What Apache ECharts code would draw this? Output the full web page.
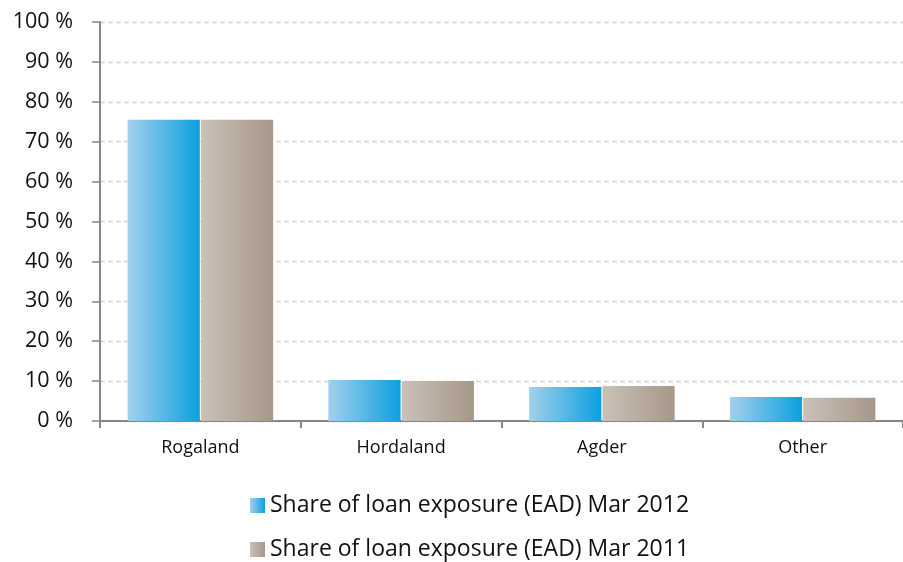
<!DOCTYPE html>
<html>
<head>
<meta charset="utf-8">
<script src="https://cdn.jsdelivr.net/npm/echarts@6/dist/echarts.min.js"></script>
<style>
  html, body { margin: 0; padding: 0; background: #fff; overflow: hidden; }
  #chart { width: 903px; height: 562px; }
</style>
</head>
<body>
<div id="chart"></div>
<script>
    // 数据
    var categories = ['Rogaland', 'Hordaland', 'Agder', 'Other'];
    var seriesNames = ['Share of loan exposure (EAD) Mar 2012', 'Share of loan exposure (EAD) Mar 2011'];
    var mar2012 = [75.5, 10.3, 8.5, 6.0];
    var mar2011 = [75.5, 10.0, 8.8, 5.8];

    function grad(c1, c2) {
        return new echarts.graphic.LinearGradient(0, 0, 1, 0, [
            { offset: 0, color: c1 },
            { offset: 1, color: c2 }
        ]);
    }

    // 图例每行一个
    function legendAt(name, top) {
        return {
            orient: 'horizontal',
            left: 245,
            top: top,
            itemWidth: 15,
            itemHeight: 15,
            icon: 'rect',
            textStyle: { fontSize: 23, color: '#111', fontFamily: '"Open Sans", sans-serif' },
            data: [name]
        };
    }

    var myChart = echarts.init(document.getElementById('chart'));

    var option = {
        animation: false,
        textStyle: { fontFamily: '"Open Sans", sans-serif' },
        // 图表在右侧被裁掉了一部分
        grid: { left: 100, top: 22, width: 812, bottom: 141, containLabel: false },
        legend: [legendAt(seriesNames[0], 489), legendAt(seriesNames[1], 533)],
        xAxis: {
            type: 'category',
            data: categories,
            axisLine: { lineStyle: { color: '#878787', width: 2 } },
            axisTick: { show: true, length: 7, lineStyle: { color: '#878787', width: 2 } },
            axisLabel: { fontSize: 18, color: '#111', margin: 18 }
        },
        yAxis: {
            type: 'value',
            min: 0,
            max: 100,
            interval: 10,
            axisLine: { show: true, lineStyle: { color: '#878787', width: 2 } },
            axisTick: { show: true, length: 8, lineStyle: { color: '#878787', width: 1.5 } },
            axisLabel: { fontSize: 21.5, color: '#111', margin: 27, formatter: '{value} %' },
            splitLine: { lineStyle: { color: '#d4d4d4', type: [5, 3], width: 1.3 } }
        },
        series: [{
            name: seriesNames[0],
            type: 'bar',
            data: mar2012,
            barGap: '1.5%',
            barCategoryGap: '27.5%',
            itemStyle: { color: grad('#a3d0eb', '#0ba0df') }
        }, {
            name: seriesNames[1],
            type: 'bar',
            data: mar2011,
            itemStyle: { color: grad('#cac1b7', '#a6988a') }
        }]
    };

    myChart.setOption(option);
</script>
</body>
</html>
